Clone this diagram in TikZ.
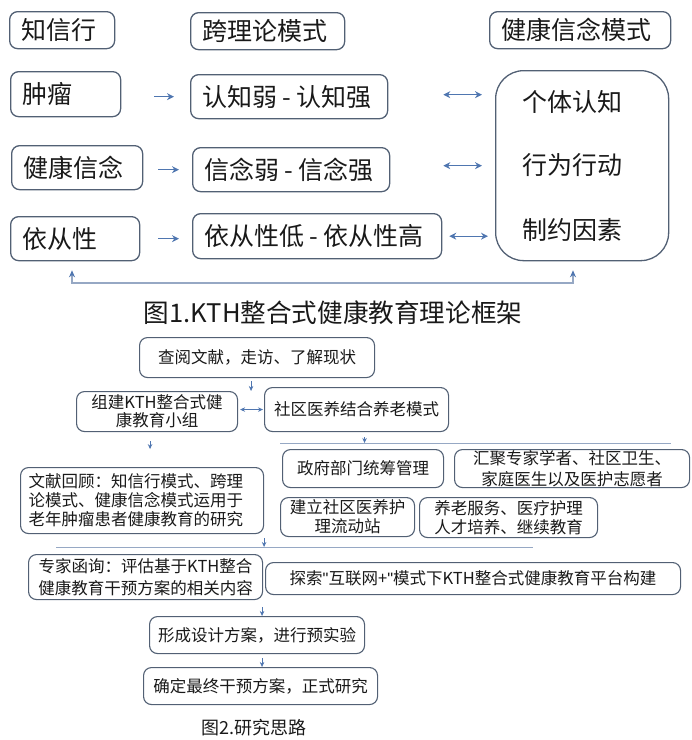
\documentclass[tikz,border=0pt]{standalone}
\usepackage{fontspec}
\setmainfont{Noto Sans CJK SC}
\newfontfamily\latinq{Liberation Sans}
\usetikzlibrary{arrows.meta}
\definecolor{boxc}{RGB}{82,96,116}
\definecolor{arrc}{RGB}{79,118,176}
\definecolor{linc}{RGB}{150,168,196}
\definecolor{txtc}{RGB}{25,25,25}
\newcommand\topfont{\fontsize{25}{30}\selectfont}
\newcommand\lowfont{\fontsize{16.5}{19}\selectfont}
\newcommand\capfont{\fontsize{25.6}{30}\selectfont}
\newcommand\hy{\kern5pt-\kern5pt}
\tikzset{
  tbox/.style={draw=boxc, line width=1.3pt, rounded corners=8pt, anchor=north west,
    inner xsep=12pt, inner ysep=0pt, align=left, font=\topfont, text=txtc},
  lbox/.style={draw=boxc, line width=1.1pt, rounded corners=8pt, anchor=north west,
    inner xsep=6pt, inner ysep=0pt, align=center, font=\lowfont, text=txtc},
  arr/.style={draw=arrc, line width=1.3pt, -{Stealth[length=7pt,width=7pt]}},
  dbl/.style={draw=arrc, line width=1.3pt, {Stealth[length=7pt,width=7pt]}-{Stealth[length=7pt,width=7pt]}},
  fb/.style={draw=linc, line width=1.1pt, {Stealth[length=7pt,width=6pt,color=arrc]}-{Stealth[length=7pt,width=6pt,color=arrc]}},
  sarr/.style={draw=arrc, line width=1pt, -{Stealth[length=5pt,width=4.5pt]}},
  sdbl/.style={draw=arrc, line width=1pt, {Stealth[length=5pt,width=4.5pt]}-{Stealth[length=5pt,width=4.5pt]}},
  lin/.style={draw=linc, line width=1pt},
}
\begin{document}
\begin{tikzpicture}[x=1pt, y=-1pt]
\useasboundingbox (0,0) rectangle (692,740);
% ---------- Figure 1 ----------
\node[tbox, minimum width=105pt, minimum height=37pt, text width=81pt] (zxx) at (9,11) {知信行};
\node[tbox, minimum width=154pt, minimum height=37pt, text width=130pt] (klm) at (190,12) {跨理论模式};
\node[tbox, minimum width=181pt, minimum height=37pt, text width=157pt] (jkm) at (489,11) {健康信念模式};
\node[tbox, minimum width=110pt, minimum height=45pt, text width=86pt] (zl) at (10,71) {肿瘤};
\node[tbox, minimum width=197pt, minimum height=44pt, text width=173pt] (rz) at (190,74) {认知弱\hy 认知强};
\node[tbox, minimum width=131pt, minimum height=44pt, text width=107pt] (jk) at (11,145) {健康信念};
\node[tbox, minimum width=197pt, minimum height=44pt, text width=173pt] (xn) at (192,147) {信念弱\hy 信念强};
\node[tbox, minimum width=129pt, minimum height=44pt, text width=105pt] (yc) at (10,216) {依从性};
\node[tbox, minimum width=249pt, minimum height=45pt, text width=225pt] (ycg) at (192,213) {依从性低\hy 依从性高};
\node[draw=boxc, line width=1.3pt, rounded corners=28pt, anchor=north west,
      minimum width=173pt, minimum height=190pt, inner sep=0pt] (big) at (495,70) {};
\node[anchor=west, inner sep=0pt, font=\topfont, text=txtc] (bt1) at (522,102) {个体认知};
\node[anchor=west, inner sep=0pt, font=\topfont, text=txtc] (bt2) at (522,165) {行为行动};
\node[anchor=west, inner sep=0pt, font=\topfont, text=txtc] (bt3) at (522,230) {制约因素};
\draw[arr, shorten <=33pt, shorten >=16pt] (zl.east |- rz.west) -- (rz.west);
\draw[arr, shorten <=15pt, shorten >=13pt] (jk.east |- xn.west) -- (xn.west);
\draw[arr, shorten <=18pt, shorten >=13pt] (yc.east) -- (yc.east -| ycg.west);
\draw[dbl, shorten <=55pt, shorten >=13pt] ([yshift=2pt]rz.east) -- ([yshift=2pt]rz.east -| big.west);
\draw[dbl, shorten <=53pt, shorten >=13pt] ([yshift=4pt]xn.east) -- ([yshift=4pt]xn.east -| big.west);
\draw[dbl, shorten <=7pt, shorten >=7pt] (ycg.east) -- (ycg.east -| big.west);
\coordinate (fbl) at (72,283);
\coordinate (fbr) at (573,283);
\draw[fb, shorten <=9pt, shorten >=9pt] (fbl |- yc.south) -- (fbl) -- (fbr) -- (fbr |- big.south);
\node[font=\capfont, text=txtc, inner sep=0pt] (cap1) at (333,313) {图1.KTH整合式健康教育理论框架};
% ---------- Figure 2 ----------
\node[lbox, minimum width=235pt, minimum height=40pt, text width=223pt] (cy) at (139,337) {查阅文献，走访、了解现状};
\node[lbox, minimum width=161pt, minimum height=40pt, text width=149pt, font=\fontsize{16.5}{18}\selectfont] (zj) at (76,391) {组建KTH整合式健\\康教育小组};
\node[lbox, minimum width=184pt, minimum height=44pt, text width=172pt] (sq) at (264,387) {社区医养结合养老模式};
\node[lbox, minimum width=161pt, minimum height=38pt, text width=149pt] (zf) at (282,449) {政府部门统筹管理};
\node[lbox, minimum width=235pt, minimum height=38pt, text width=223pt, font=\fontsize{16.5}{21}\selectfont] (hj) at (454,449) {汇聚专家学者、社区卫生、\\家庭医生以及医护志愿者};
\node[lbox, minimum width=243pt, minimum height=66pt, text width=227pt, inner xsep=8pt, align=left] (wx) at (20,467) {文献回顾：知信行模式、跨理\\论模式、健康信念模式运用于\\老年肿瘤患者健康教育的研究};
\node[lbox, minimum width=134pt, minimum height=39pt, text width=124pt, inner xsep=5pt] (jl) at (280,497) {建立社区医养护\\理流动站};
\node[lbox, minimum width=178pt, minimum height=40pt, text width=166pt] (yl) at (419,497) {养老服务、医疗护理\\人才培养、继续教育};
\coordinate (l1a) at (280,443);
\coordinate (l1b) at (671,443);
\coordinate (l2a) at (56,547);
\coordinate (l2b) at (533,547);
\draw[lin] (l1a) -- (l1b);
\draw[lin] (l2a) -- (l2b);
\node[lbox, minimum width=234pt, minimum height=45pt, text width=230pt, inner xsep=2pt, font=\fontsize{16.5}{22}\selectfont] (zjh) at (28,554) {专家函询：评估基于KTH整合\\健康教育干预方案的相关内容};
\node[lbox, minimum width=415pt, minimum height=32pt, text width=403pt] (ts) at (265,562) {探索{\latinq "}互联网+{\latinq "}模式下KTH整合式健康教育平台构建};
\node[lbox, minimum width=215pt, minimum height=37pt, text width=203pt] (fs) at (149,616) {形成设计方案，进行预实验};
\node[lbox, minimum width=234pt, minimum height=37pt, text width=222pt] (qd) at (143,667) {确定最终干预方案，正式研究};
\draw[sarr, shorten <=3pt] ([xshift=-6pt]cy.south) -- ([xshift=-6pt]cy.south |- zj.north);
\draw[sdbl, shorten <=2pt, shorten >=1pt] ([yshift=2pt]zj.east) -- ([yshift=2pt]zj.east -| sq.west);
\draw[sarr, shorten <=9pt] ([xshift=-7pt]zj.south) -- ([xshift=-7pt,yshift=-17pt]zj.south);
\draw[sarr, shorten <=5pt] ([xshift=8pt]sq.south) -- ([xshift=8pt]sq.south |- l1a);
\draw[sarr, shorten <=4pt] (wx.south east) -- (wx.south east |- l2a);
\draw[sarr, shorten <=7pt] ([xshift=5pt]fs.north |- zjh.south) -- ([xshift=5pt]fs.north);
\draw[sarr, shorten <=4pt] ([xshift=5pt]fs.south) -- ([xshift=5pt]fs.south |- qd.north);
\node[font=\fontsize{18}{20}\selectfont, text=txtc, inner sep=0pt] (cap2) at (254,728) {图2.研究思路};
\end{tikzpicture}
\end{document}
